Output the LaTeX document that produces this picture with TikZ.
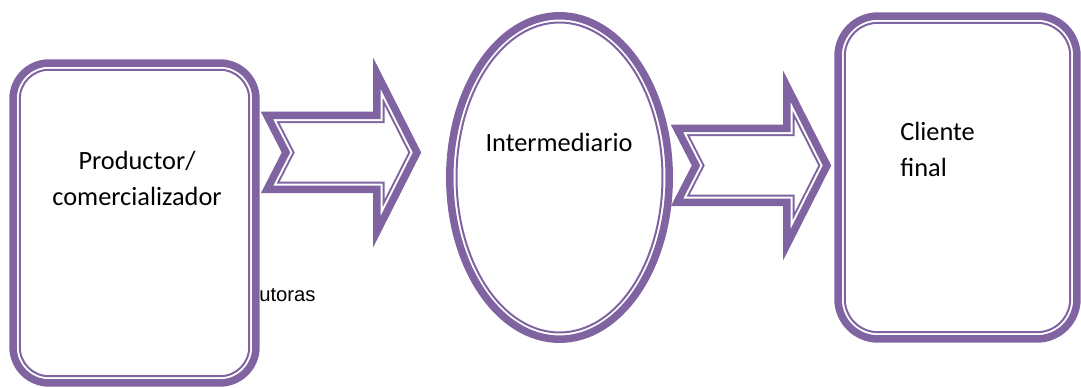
\documentclass[tikz,border=0pt]{standalone}
\usepackage{fontspec}
\setmainfont{Carlito}
\newfontfamily\arialfam{Liberation Sans}
\usetikzlibrary{positioning,calc,shapes.geometric}
\definecolor{morado}{HTML}{8064A2}

\newcommand{\contornoflecha}{(0,37) -- (110,37) -- (110,79) -- (150,0) -- (110,-79) -- (110,-37) -- (0,-37) -- (19,0) -- cycle}

\begin{document}
\begin{tikzpicture}[x=0.02cm, y=0.02cm,
    canal caja/.style={rectangle, draw=morado, line width=0.15cm, fill=white, outer sep=0pt, inner sep=0pt},
    canal ovalo/.style={ellipse, draw=morado, line width=0.15cm, fill=white, outer sep=0pt, inner sep=0pt},
    canal fina/.style={draw=morado, line width=0.04cm},
    canal texto/.style={font=\fontsize{15}{21}\selectfont, inner sep=0pt},
    pics/canal flecha/.style={code={
        \begin{scope}
          \clip \contornoflecha;
          \draw[morado, line width=0.31cm] \contornoflecha;
          \draw[white, line width=0.23cm] \contornoflecha;
        \end{scope}
        \draw[morado, line width=0.15cm] \contornoflecha;
    }}]

    \useasboundingbox (0,0) rectangle (1081,388);

    \node [canal caja, rounded corners=0.72cm, minimum width=4.86cm, minimum height=6.4cm] (prod) at (134.5,165) {};
    \node [canal ovalo, minimum width=4.39cm, minimum height=6.47cm] (inter) at (559.5,210.5) {};
    \node [canal caja, rounded corners=0.8cm, minimum width=4.78cm, minimum height=6.46cm] (cli) at (957.5,210.5) {};

    % lineas interiores
    \draw [canal fina, rounded corners=0.585cm] ($(prod.south west)+(6.75,6.75)$) rectangle ($(prod.north east)-(6.75,6.75)$);
    \draw [canal fina] (inter.center) ellipse [x radius=2.06cm, y radius=3.1cm];
    \draw [canal fina, rounded corners=0.665cm] ($(cli.south west)+(6.75,6.75)$) rectangle ($(cli.north east)-(6.75,6.75)$);

    \pic at ($(prod.east)+(11,70.5)$) {canal flecha};
    \pic at ($(inter.east)+(7.75,12)$) {canal flecha};

    \node [canal texto, align=center, anchor=base] (prodtxt) at (137,182) {Productor/\\comercializador};
    \node [canal texto, anchor=base] (intertxt) at (559,236.3) {Intermediario};
    \node [canal texto, align=left, anchor=base west] (clitxt) at (900,211) {Cliente\\final};
    \node [font=\arialfam\fontsize{11.5}{14}\selectfont, inner sep=0pt, anchor=base west] (distxt) at (259,86) {utoras};

\end{tikzpicture}
\end{document}
